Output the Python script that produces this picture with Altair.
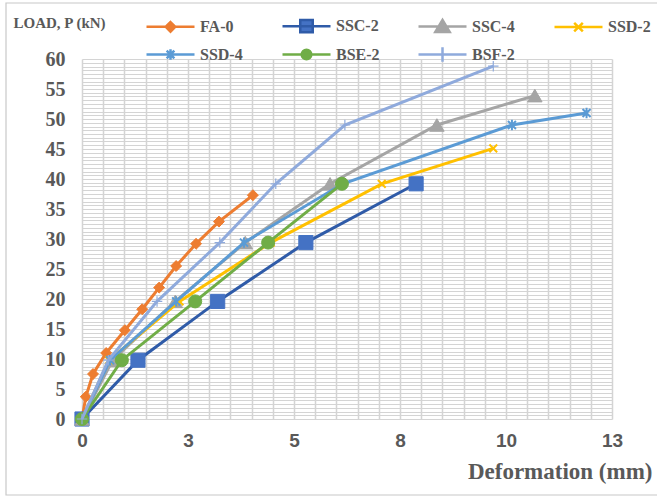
import altair as alt
import pandas as pd

# Load–deformation readings per specimen
series_names = ["FA-0", "SSC-2", "SSC-4", "SSD-2", "SSD-4", "BSE-2", "BSF-2"]

fa0_x = [0, 0.09, 0.26, 0.57, 1.01, 1.42, 1.82, 2.22, 2.69, 3.23, 4.03]
fa0_y = [0, 3.7, 7.5, 11.0, 14.8, 18.3, 21.9, 25.5, 29.2, 32.9, 37.3]

ssc2_x = [0, 1.32, 3.2, 5.28, 7.88]
ssc2_y = [0, 9.8, 19.6, 29.4, 39.2]

ssc4_x = [0, 0.72, 2.2, 3.85, 5.85, 8.37, 10.68]
ssc4_y = [0, 9.8, 19.6, 29.4, 39.2, 49.0, 53.9]

ssd2_x = [0, 0.64, 2.3, 4.45, 7.07, 9.7]
ssd2_y = [0, 9.8, 19.6, 29.4, 39.2, 45.1]

ssd4_x = [0, 0.66, 2.22, 3.82, 6.15, 10.14, 11.9]
ssd4_y = [0, 9.8, 19.6, 29.4, 39.2, 49.0, 51.0]

bse2_x = [0, 0.94, 2.67, 4.39, 6.13]
bse2_y = [0, 9.8, 19.6, 29.4, 39.2]

bsf2_x = [0, 0.62, 1.77, 3.25, 4.57, 6.2, 9.7]
bsf2_y = [0, 9.8, 19.6, 29.4, 39.2, 49.0, 58.8]

# Axis ticks: every 0.5 mm / 0.625 kN for the grid, labels on the majors
x_ticks = [i * 0.5 for i in range(26)]
y_ticks = [i * 0.625 for i in range(97)]

xs = [fa0_x, ssc2_x, ssc4_x, ssd2_x, ssd4_x, bse2_x, bsf2_x]
ys = [fa0_y, ssc2_y, ssc4_y, ssd2_y, ssd4_y, bse2_y, bsf2_y]

rows = []
for name, sx, sy in zip(series_names, xs, ys):
    for a, b in zip(sx, sy):
        rows.append({"series": name, "deformation": a, "load": b})
df = pd.DataFrame(rows)

# Styling per series
line_colors = ["#ED7D31", "#2F5BA8", "#A5A5A5", "#FFC000", "#5B9BD5", "#70AD47", "#8FAADC"]
marker_colors = ["#ED7D31", "#4472C4", "#A5A5A5", "#FFC000", "#5B9BD5", "#70AD47", "#8FAADC"]
marker_shapes = [
    "diamond",
    "square",
    "triangle-up",
    "M-1,-1L1,1M-1,1L1,-1",
    "M-1,-1L1,1M-1,1L1,-1M0,-1.3L0,1.3",
    "circle",
    "M-1,0L1,0M0,-1L0,1",
]
marker_sizes = [120, 200, 210, 60, 64, 170, 110]
marker_filled = [True, True, True, False, False, True, False]
marker_strokes = [1, 1, 1, 2, 2, 1, 1.2]

# Legend symbols: a line segment with the series marker in the middle
# (drawn at twice the nominal symbol extent so the entry rows stay compact)
legend_paths = [
    "M-2,0L2,0M0,-0.4L0.4,0L0,0.4L-0.4,0Z",
    "M-2,0L2,0M-0.52,-0.52L0.52,-0.52L0.52,0.52L-0.52,0.52Z",
    "M-2,0L2,0M0,-0.56L0.6,0.44L-0.6,0.44Z",
    "M-2,0L2,0M-0.36,-0.36L0.36,0.36M-0.36,0.36L0.36,-0.36",
    "M-2,0L2,0M-0.32,-0.32L0.32,0.32M-0.32,0.32L0.32,-0.32M0,-0.44L0,0.44",
    "M-2,0L2,0M-0.4,0A0.4,0.4,0,1,0,0.4,0A0.4,0.4,0,1,0,-0.4,0Z",
    "M-2,0L2,0M0,-0.6L0,0.6",
]

x_scale = alt.Scale(domain=[0, 12.5], nice=False, zero=False)
y_scale = alt.Scale(domain=[0, 60], nice=False, zero=False)

x_axis = alt.Axis(
    values=x_ticks,
    labelExpr="datum.value % 2.5 == 0 ? format(datum.value, '.0f') : ''",
    title="Deformation (mm)",
    titleFont="Liberation Serif",
    titleFontSize=23,
    titleFontWeight="bold",
    titleColor="#595959",
    titleAnchor="end",
    titleAlign="right",
    titleX=570,
    titleY=59,
    titleBaseline="alphabetic",
    labelFont="Liberation Sans",
    labelFontSize=19,
    labelFontWeight="bold",
    labelColor="#595959",
    labelPadding=12,
    labelFlush=False,
    labelOverlap=False,
    domain=False,
    ticks=False,
    grid=True,
    gridColor="#D4D4D4",
    gridWidth=1.5,
)
y_axis = alt.Axis(
    values=y_ticks,
    labelExpr="datum.value % 5 == 0 ? format(datum.value, '.0f') : ''",
    title="LOAD, P (kN)",
    titleFont="Liberation Serif",
    titleFontSize=15,
    titleFontWeight="bold",
    titleColor="#595959",
    titleAngle=0,
    titleAlign="left",
    titleBaseline="middle",
    titleX=-69,
    titleY=-37,
    labelFont="Liberation Serif",
    labelFontSize=20,
    labelFontWeight="bold",
    labelColor="#595959",
    labelPadding=17,
    labelFlush=False,
    labelOverlap=False,
    domain=False,
    ticks=False,
    grid=True,
    gridColor="#D4D4D4",
    gridWidth=1.2,
)

x_enc = alt.X("deformation:Q", scale=x_scale, axis=x_axis)
y_enc = alt.Y("load:Q", scale=y_scale, axis=y_axis)

base = alt.Chart(df)

layers = []
for i, name in enumerate(series_names):
    sub = base.transform_filter(alt.datum.series == name)
    line = sub.mark_line(color=line_colors[i], strokeWidth=3).encode(
        x=x_enc, y=y_enc, order=alt.Order("deformation:Q")
    )
    pts = sub.mark_point(
        shape=marker_shapes[i],
        size=marker_sizes[i],
        filled=marker_filled[i],
        color=marker_colors[i],
        stroke=marker_colors[i],
        strokeWidth=marker_strokes[i],
        opacity=1,
    ).encode(x=x_enc, y=y_enc)
    layers += [line, pts]

# Legend carrier: draws nothing, only supplies the legend entries
legend_layer = base.transform_filter("false").mark_point(filled=True, opacity=1).encode(
    x=x_enc,
    y=y_enc,
    fill=alt.Fill("series:N", scale=alt.Scale(domain=series_names, range=marker_colors)),
    stroke=alt.Stroke("series:N", scale=alt.Scale(domain=series_names, range=line_colors)),
    shape=alt.Shape(
        "series:N",
        scale=alt.Scale(domain=series_names, range=legend_paths),
        legend=alt.Legend(
            title=None,
            orient="none",
            direction="horizontal",
            legendX=75,
            legendY=-47,
            columns=4,
            columnPadding=33,
            rowPadding=3,
            gridAlign="all",
            symbolSize=576,
            symbolStrokeWidth=2.5,
            labelFont="Liberation Serif",
            labelFontSize=16,
            labelFontWeight="bold",
            labelColor="#595959",
            labelOffset=16,
            padding=0,
        ),
    ),
)

frame = alt.Chart(pd.DataFrame({"k": [0]})).mark_rect(
    fill=None, stroke="#C8C8C8", strokeWidth=1.2
).encode(
    x=alt.value(-76), x2=alt.value(590), y=alt.value(-56), y2=alt.value(436)
)

chart = alt.layer(*layers, legend_layer, frame).resolve_scale(
    fill="independent", stroke="independent", shape="independent"
).properties(
    width=530,
    height=360,
    autosize=alt.AutoSizeParams(type="none"),
    padding={"left": 82, "top": 59, "right": 45, "bottom": 78},
    background="white",
).configure_view(stroke=None)

chart.save("out.html", embed_options={"renderer": "svg", "actions": False})
